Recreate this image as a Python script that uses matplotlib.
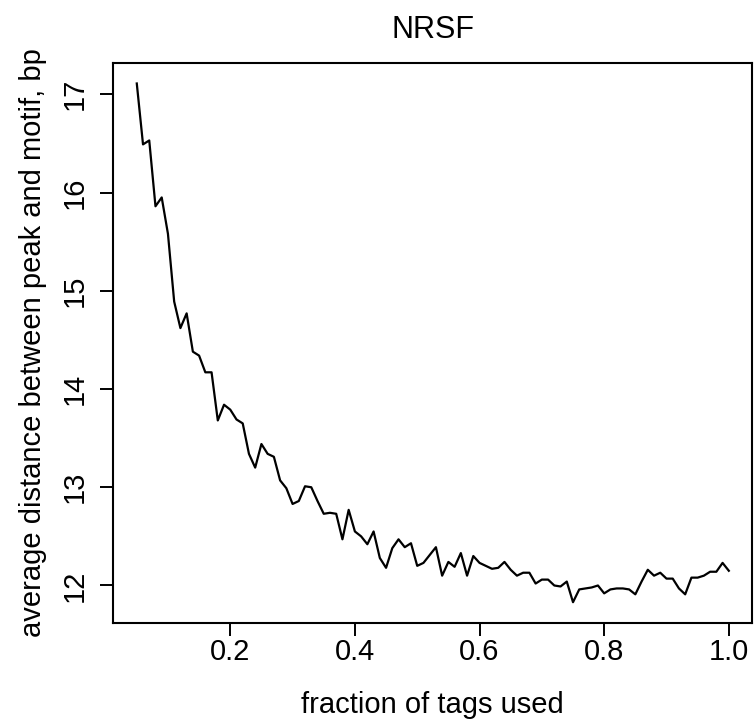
import numpy as np
import matplotlib
matplotlib.use("Agg")
import matplotlib.pyplot as plt

# fraction of tags used vs average peak-motif distance (NRSF)
fraction = np.round(np.arange(5, 101) / 100, 2)
distance = [17.11, 16.49, 16.53, 15.86, 15.95, 15.58, 14.89, 14.62, 14.77, 14.38,
            14.34, 14.17, 14.17, 13.68, 13.84, 13.79, 13.69, 13.65, 13.34, 13.20,
            13.44, 13.34, 13.31, 13.07, 12.99, 12.83, 12.86, 13.01, 13.00, 12.86,
            12.73, 12.74, 12.73, 12.47, 12.77, 12.55, 12.50, 12.42, 12.55, 12.28,
            12.18, 12.38, 12.47, 12.39, 12.43, 12.20, 12.23, 12.31, 12.39, 12.10,
            12.24, 12.19, 12.33, 12.10, 12.30, 12.23, 12.20, 12.17, 12.18, 12.24,
            12.16, 12.10, 12.13, 12.13, 12.02, 12.06, 12.06, 12.00, 11.99, 12.04,
            11.83, 11.96, 11.97, 11.98, 12.00, 11.92, 11.96, 11.97, 11.97, 11.96,
            11.91, 12.04, 12.16, 12.10, 12.13, 12.07, 12.07, 11.97, 11.91, 12.08,
            12.08, 12.10, 12.14, 12.14, 12.23, 12.15]

xticks = [0.2, 0.4, 0.6, 0.8, 1.0]
yticks = [12, 13, 14, 15, 16, 17]

plt.rcParams['font.family'] = ['Liberation Sans', 'DejaVu Sans']

fig = plt.figure(figsize=(7.54, 7.21), dpi=100)
ax = fig.add_axes([0.150, 0.136, 0.848, 0.777])

ax.plot(fraction, distance, color='black', lw=1.6)
ax.margins(x=0.04, y=0.04)

ax.set_xticks(xticks)
ax.set_xticklabels(["%.1f" % t for t in xticks])
ax.set_yticks(yticks)
ax.set_yticklabels([str(t) for t in yticks], rotation=90, va='center')

ax.tick_params(axis='both', labelsize=21, length=9.5, width=1.4, direction='out')
ax.tick_params(axis='x', pad=1)
ax.tick_params(axis='y', pad=8)
for s in ax.spines.values():
    s.set_linewidth(1.5)

ax.set_xlabel('fraction of tags used', fontsize=21, labelpad=18)
ax.set_ylabel('average distance between peak and motif, bp', fontsize=21, labelpad=10)
ax.set_title('NRSF', fontsize=22, pad=18)

fig.savefig('out.png', dpi=100)
